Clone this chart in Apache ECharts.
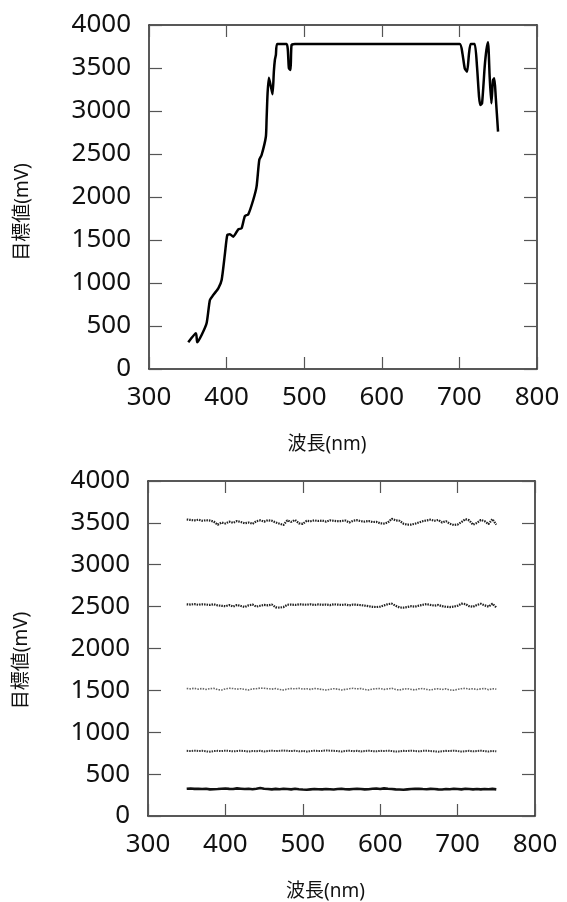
<!DOCTYPE html>
<html><head><meta charset="utf-8">
<script src="https://cdn.jsdelivr.net/npm/echarts@6/dist/echarts.min.js"></script>
<style>html,body{margin:0;padding:0;background:#fff}#c{width:567px;height:902px}</style>
</head><body><div id="c"></div>
<script>
// Top chart: measured curve
const topWavelength = [350.6,360.5,362.2,367.8,374.2,378.5,382.8,389.3,393.6,397.9,400.9,404.3,408.6,415,419.3,423.6,427.9,434.3,438.6,442.1,445.1,450.6,451.5,452.8,454.5,457.1,459.2,460.9,462.2,463.5,465.2,477.3,480.3,482.4,483.7,488,550,600,650,700.4,703.9,706.9,709.9,712.4,714.6,719.7,722.7,725.3,727,729.2,732.6,734.8,736.9,739,741.2,743.3,745,746.8,749.8];
const topValue = [310,415,310,395,531,802,860,938,1035,1345,1558,1566,1539,1624,1636,1779,1798,1965,2120,2430,2488,2701,2895,3205,3388,3283,3194,3457,3593,3651,3780,3780,3496,3477,3767,3780,3780,3780,3780,3780,3670,3496,3457,3670,3780,3780,3515,3167,3070,3089,3515,3709,3800,3399,3089,3360,3380,3167,2760];

// Bottom chart: five target levels, 350-750 nm every 5 nm
const bottomWavelength = [350,355,360,365,370,375,380,385,390,395,400,405,410,415,420,425,430,435,440,445,450,455,460,465,470,475,480,485,490,495,500,505,510,515,520,525,530,535,540,545,550,555,560,565,570,575,580,585,590,595,600,605,610,615,620,625,630,635,640,645,650,655,660,665,670,675,680,685,690,695,700,705,710,715,720,725,730,735,740,745,750];
const level3500 = [3540,3535,3530,3538,3525,3532,3528,3515,3478,3505,3492,3515,3500,3522,3510,3495,3505,3488,3520,3530,3515,3532,3525,3505,3490,3475,3530,3512,3535,3495,3488,3525,3520,3530,3522,3528,3515,3530,3525,3520,3522,3528,3505,3525,3532,3520,3515,3522,3510,3512,3495,3492,3505,3550,3530,3525,3490,3478,3480,3490,3505,3520,3530,3538,3525,3535,3505,3520,3490,3475,3480,3510,3545,3530,3478,3500,3535,3520,3485,3545,3478];
const level2500 = [2528,2525,2530,2522,2528,2525,2520,2528,2515,2510,2505,2518,2500,2520,2508,2495,2515,2525,2500,2510,2520,2515,2525,2492,2488,2495,2522,2525,2520,2528,2525,2522,2528,2520,2526,2522,2525,2518,2528,2524,2520,2525,2515,2525,2522,2518,2512,2505,2498,2495,2500,2515,2530,2535,2510,2490,2488,2495,2505,2500,2512,2522,2530,2520,2512,2520,2505,2498,2495,2500,2510,2535,2530,2505,2498,2520,2535,2515,2500,2535,2490];
const level1500 = [1522,1518,1525,1515,1522,1512,1520,1525,1508,1505,1518,1525,1522,1515,1520,1512,1505,1518,1520,1528,1525,1520,1515,1522,1510,1505,1515,1522,1518,1525,1515,1520,1512,1522,1518,1510,1505,1512,1520,1515,1505,1512,1520,1525,1518,1522,1510,1505,1515,1520,1522,1512,1518,1525,1510,1505,1515,1520,1512,1505,1518,1522,1512,1505,1515,1520,1510,1518,1505,1502,1512,1520,1525,1515,1520,1510,1518,1522,1508,1520,1515];
const level750 = [778,775,780,776,778,772,768,775,778,775,780,777,772,776,780,775,770,776,773,778,770,776,780,775,778,782,778,775,780,772,776,770,775,780,776,778,782,780,778,775,770,776,780,774,778,770,776,780,775,772,778,776,780,775,770,772,778,775,780,776,772,778,780,776,772,768,772,778,776,780,775,770,774,778,772,776,780,774,770,776,772];
const level300 = [325,328,324,326,322,325,318,320,322,325,328,324,322,330,326,322,325,320,326,334,325,322,318,324,320,326,322,318,325,320,316,314,318,322,320,318,322,320,316,322,325,320,318,322,326,322,318,320,325,328,322,330,325,322,318,316,314,318,322,324,326,322,320,324,322,318,316,322,320,325,322,318,325,322,318,322,318,322,320,324,318];

const xTicks = [300,400,500,600,700,800];
const yTicks = [0,500,1000,1500,2000,2500,3000,3500,4000];
const xName = '波長(nm)';
const yName = '目標値(mV)';

const FONT = '"Noto Sans", "Noto Sans CJK JP", sans-serif';
const pairs = (xs, ys) => xs.map((x, i) => [x, ys[i]]);
const plain = v => String(v);

function xAxes(grid) {
  const base = {
    type: 'value', gridIndex: grid, min: xTicks[0], max: xTicks[xTicks.length-1], interval: 100,
    splitLine: {show: false},
    axisLine: {show: true, onZero: false, lineStyle: {color: '#222', width: 1.5}},
    axisTick: {show: true, inside: true, length: 12, lineStyle: {color: '#555', width: 1.2}}
  };
  return [
    Object.assign({}, base, {position: 'bottom',
      axisLabel: {show: true, color: '#111', fontSize: 26, fontFamily: FONT, margin: 16, formatter: plain},
      name: xName, nameLocation: 'middle', nameGap: 66,
      nameTextStyle: {color: '#111', fontSize: 19, fontFamily: FONT, padding: [0, 32, 0, 0]}}),
    Object.assign({}, base, {position: 'top', axisLabel: {show: false}})
  ];
}
function yAxes(grid, shift) {
  const base = {
    type: 'value', gridIndex: grid, min: 0, max: 4000, interval: 500,
    splitLine: {show: false},
    axisLine: {show: true, onZero: false, lineStyle: {color: '#222', width: 1.5}},
    axisTick: {show: true, inside: true, length: 13, lineStyle: {color: '#555', width: 1.2}}
  };
  return [
    Object.assign({}, base, {position: 'left',
      axisLabel: {show: true, color: '#111', fontSize: 26, fontFamily: FONT, margin: 18, formatter: plain},
      name: yName, nameLocation: 'middle', nameGap: 117, nameRotate: 90,
      nameTextStyle: {color: '#111', fontSize: 19, fontFamily: FONT, padding: [0, shift, 0, 0]}}),
    Object.assign({}, base, {position: 'right', axisLabel: {show: false}})
  ];
}

const option = {
  animation: false,
  backgroundColor: '#fff',
  grid: [
    {left: 149, top: 25, width: 388, height: 344},
    {left: 148, top: 481, width: 387, height: 335}
  ],
  xAxis: [...xAxes(0), ...xAxes(1)],
  yAxis: [...yAxes(0, 30), ...yAxes(1, 24)],
  series: [
    {type: 'line', xAxisIndex: 0, yAxisIndex: 0, data: pairs(topWavelength, topValue), showSymbol: false,
      lineStyle: {color: '#000', width: 2.5}, smooth: 0.2},
    {type: 'line', xAxisIndex: 2, yAxisIndex: 2, data: pairs(bottomWavelength, level3500), showSymbol: false,
      lineStyle: {color: '#222', width: 2.2, type: [1.5, 1]}},
    {type: 'line', xAxisIndex: 2, yAxisIndex: 2, data: pairs(bottomWavelength, level2500), showSymbol: false,
      lineStyle: {color: '#222', width: 2.2, type: [1.5, 1]}},
    {type: 'line', xAxisIndex: 2, yAxisIndex: 2, data: pairs(bottomWavelength, level1500), showSymbol: false,
      lineStyle: {color: '#666', width: 1.6, type: [1.5, 1.2]}},
    {type: 'line', xAxisIndex: 2, yAxisIndex: 2, data: pairs(bottomWavelength, level750), showSymbol: false,
      lineStyle: {color: '#333', width: 2, type: [1.5, 1]}},
    {type: 'line', xAxisIndex: 2, yAxisIndex: 2, data: pairs(bottomWavelength, level300), showSymbol: false,
      lineStyle: {color: '#111', width: 2.6}}
  ]
};
const chart = echarts.init(document.getElementById('c'), null, {renderer: 'canvas'});
chart.setOption(option);
</script></body></html>
